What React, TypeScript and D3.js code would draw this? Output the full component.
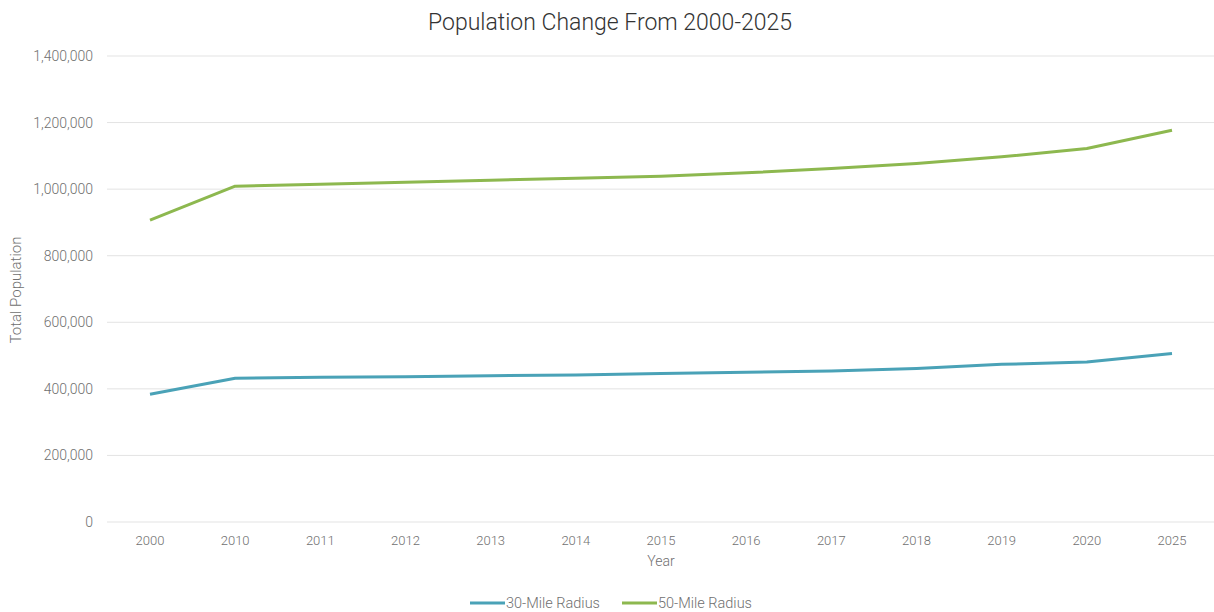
import React from "react";
import * as d3 from "d3";

const years = ["2000", "2010", "2011", "2012", "2013", "2014", "2015", "2016", "2017", "2018", "2019", "2020", "2025"];
const radius30 = [384000, 432000, 434500, 436500, 439500, 441500, 446500, 449600, 453500, 461500, 473600, 481000, 506000];
const radius50 = [907000, 1009000, 1015000, 1021000, 1027000, 1033000, 1039000, 1049000, 1062000, 1077000, 1097000, 1122000, 1177000];
const yTicks = [0, 200000, 400000, 600000, 800000, 1000000, 1200000, 1400000];
const seriesNames = ["30-Mile Radius", "50-Mile Radius"];
const seriesColors = ["#4aa2b7", "#8db84f"];

const W = 1214;
const H = 612;
const font = "Roboto, 'Open Sans', sans-serif";

export default function App() {
  const x = d3.scalePoint<string>().domain(years).range([150, 1172]);
  const y = d3.scaleLinear().domain([0, 1400000]).range([522, 56]);
  const fmt = d3.format(",");
  const line = d3
    .line<number>()
    .x((_, i) => x(years[i]) as number)
    .y((d) => y(d));
  const series = [radius30, radius50];

  return (
    <svg width={W} height={H} style={{ position: "absolute", left: 0, top: 0, background: "#fff" }} fontFamily={font}>
      <text x={610} y={30} textAnchor="middle" fontSize={23} fontWeight={300} fill="#333">
        Population Change From 2000-2025
      </text>
      {yTicks.map((t) => (
        <g key={t}>
          <line x1={107} x2={1214} y1={y(t)} y2={y(t)} stroke="#e3e3e3" strokeWidth={1} />
          <text x={93} y={y(t) + 5} textAnchor="end" fontSize={14} fontWeight={300} fill="#707070">
            {fmt(t)}
          </text>
        </g>
      ))}
      {years.map((yr) => (
        <text key={yr} x={x(yr)} y={545} textAnchor="middle" fontSize={13} fontWeight={300} fill="#707070">
          {yr}
        </text>
      ))}
      <text x={661} y={566} textAnchor="middle" fontSize={14} fontWeight={300} fill="#707070">
        Year
      </text>
      <text transform="translate(21,290) rotate(-90)" textAnchor="middle" fontSize={15} fontWeight={300} fill="#707070">
        Total Population
      </text>
      {series.map((s, i) => (
        <path key={i} d={line(s) || ""} fill="none" stroke={seriesColors[i]} strokeWidth={3} strokeLinejoin="round" />
      ))}
      {seriesNames.map((n, i) => {
        const lx = 470 + i * 152;
        return (
          <g key={n}>
            <line x1={lx} x2={lx + 35} y1={603} y2={603} stroke={seriesColors[i]} strokeWidth={3} />
            <text x={lx + 36} y={608} fontSize={14.5} fontWeight={300} fill="#707070">
              {n}
            </text>
          </g>
        );
      })}
    </svg>
  );
}
